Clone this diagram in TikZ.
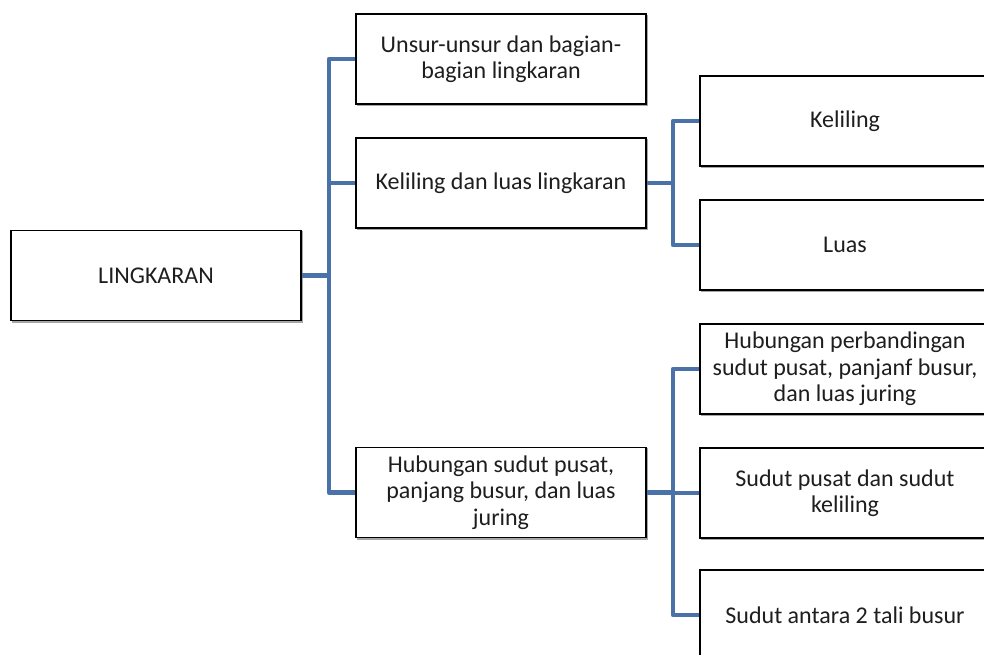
\documentclass[tikz,border=0pt]{standalone}
\usepackage{fontspec}
\setmainfont{Carlito}
\usetikzlibrary{positioning}
\definecolor{connblue}{RGB}{74,114,168}
\definecolor{txt}{RGB}{30,30,30}
\tikzset{
  box/.style={draw=black, line width=1.4pt, fill=white, minimum width=290pt, minimum height=90pt,
    align=center, text=txt, inner sep=2pt, font=\fontsize{24}{26.5}\selectfont,
    preaction={draw=black!35, fill=black!35, line width=1.4pt, transform canvas={shift={(1.6pt,-1.6pt)}}}},
  conn/.style={draw=connblue, line width=4.5pt, line join=round}
}
\begin{document}
\begin{tikzpicture}[x=1pt,y=-1pt]
\useasboundingbox (0,0) rectangle (984,655);
\begin{scope}
\clip (0,0) rectangle (984,655);
\coordinate (j1) at (329,275.5);
\coordinate (j2) at (673,183);
\coordinate (j3) at (673,492.5);
\node[box] (root) at (156,275.5) {LINGKARAN};
\node[box] (b1) at (501,59) {Unsur-unsur dan bagian-\\bagian lingkaran};
\node[box] (b2) at (501,183) {Keliling dan luas lingkaran};
\node[box] (b3) at (501,492.5) {Hubungan sudut pusat,\\panjang busur, dan luas\\juring};
\node[box] (c1) at (845,121) {Keliling};
\node[box] (c2) at (845,245) {Luas};
\node[box] (d1) at (845,369) {Hubungan perbandingan\\sudut pusat, panjanf busur,\\dan luas juring};
\node[box] (d2) at (845,493) {Sudut pusat dan sudut\\keliling};
\node[box] (d3) at (845,615) {Sudut antara 2 tali busur};
\draw[conn] (root.east) -- (j1);
\draw[conn] (j1) |- (b1.west);
\draw[conn] (j1) |- (b2.west);
\draw[conn] (j1) |- (b3.west);
\draw[conn] (b2.east) -- (j2);
\draw[conn] (j2) |- (c1.west);
\draw[conn] (j2) |- (c2.west);
\draw[conn] (b3.east) -- (j3);
\draw[conn] (j3) |- (d1.west);
\draw[conn] (j3) |- (d2.west);
\draw[conn] (j3) |- (d3.west);
\end{scope}
\end{tikzpicture}
\end{document}
